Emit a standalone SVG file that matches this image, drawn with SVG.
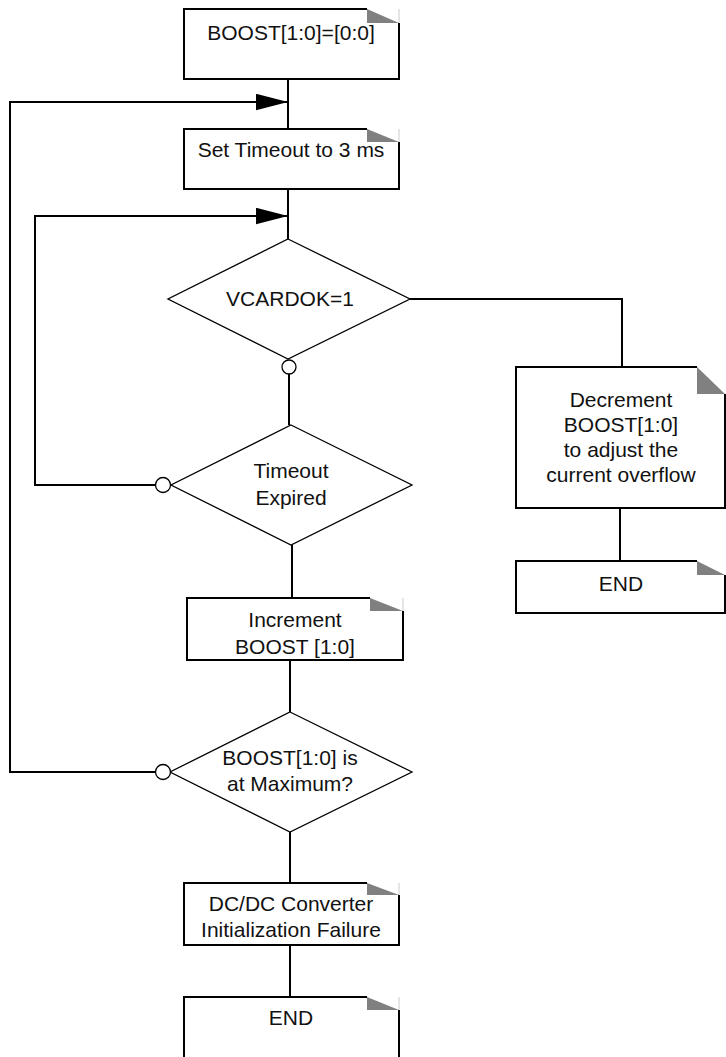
<svg xmlns="http://www.w3.org/2000/svg" width="726" height="1057" viewBox="0 0 726 1057">
<style>
.bg{fill:#fff;stroke:none}
.edge{fill:none;stroke:#000;stroke-width:2}
.fold{fill:#808080;stroke:none}
.hint{fill:none;stroke:#ccc;stroke-width:1}
.dia{fill:#fff;stroke:#000;stroke-width:1.3}
.dot{fill:#fff;stroke:#000;stroke-width:1.3}
.conn{fill:none;stroke:#000;stroke-width:2}
text{font-family:"Liberation Sans",Arial,sans-serif;font-size:21px;fill:#111;text-anchor:middle}
</style>
<defs>
<marker id="arr" markerUnits="userSpaceOnUse" markerWidth="32" markerHeight="17" viewBox="0 0 31 16" refX="31" refY="8" orient="auto">
<path d="M0,0 L31,8 L0,16 Z" fill="#000"/>
</marker>
</defs>

<g id="connectors">
<path class="conn" d="M288,79 V129"/>
<path class="conn" d="M288,189 V239"/>
<path class="conn" d="M289,374 V425"/>
<path class="conn" d="M292,545 V598"/>
<path class="conn" d="M290,660 V712"/>
<path class="conn" d="M290,832 V883"/>
<path class="conn" d="M290,945 V997"/>
<path class="conn" d="M410,299 H622 V367"/>
<path class="conn" d="M620,508 V561"/>
<path class="conn" d="M155.5,485 H35 V216 H288" marker-end="url(#arr)"/>
<path class="conn" d="M155.5,772 H10 V102 H288" marker-end="url(#arr)"/>
</g>

<g id="n_boost_init">
<rect class="bg" x="184" y="9" width="215" height="70"/>
<polygon class="fold" points="367,9 367,23 399,23"/>
<path class="hint" d="M399,9 V23"/>
<path class="edge" d="M367,9 H184 V79 H399 V23"/>
<text x="291" y="40">BOOST[1:0]=[0:0]</text>
</g>

<g id="n_set_timeout">
<rect class="bg" x="184" y="129" width="215" height="60"/>
<polygon class="fold" points="367,129 367,142 399,142"/>
<path class="hint" d="M399,129 V142"/>
<path class="edge" d="M367,129 H184 V189 H399 V142"/>
<text x="291" y="157">Set Timeout to 3 ms</text>
</g>

<g id="n_vcardok">
<polygon class="dia" points="288,239 410,299 288,359 168,299"/>
<text x="290" y="306">VCARDOK=1</text>
<circle class="dot" cx="289" cy="367" r="7"/>
</g>

<g id="n_timeout_expired">
<polygon class="dia" points="291,425 412,485 291,545 171,485"/>
<text x="291" y="478">Timeout</text>
<text x="291" y="505">Expired</text>
<circle class="dot" cx="163" cy="485" r="7.5"/>
</g>

<g id="n_increment">
<rect class="bg" x="187" y="598" width="216" height="62"/>
<polygon class="fold" points="370,598 370,611 403,611"/>
<path class="hint" d="M403,598 V611"/>
<path class="edge" d="M370,598 H187 V660 H403 V611"/>
<text x="295" y="627">Increment</text>
<text x="295" y="654">BOOST [1:0]</text>
</g>

<g id="n_boost_max">
<polygon class="dia" points="290,712 412,772 290,832 170,772"/>
<text x="290" y="765">BOOST[1:0] is</text>
<text x="290" y="791">at Maximum?</text>
<circle class="dot" cx="163" cy="772" r="7.5"/>
</g>

<g id="n_failure">
<rect class="bg" x="184" y="883" width="215" height="62"/>
<polygon class="fold" points="367,883 367,895 399,895"/>
<path class="hint" d="M399,883 V895"/>
<path class="edge" d="M367,883 H184 V945 H399 V895"/>
<text x="291" y="911">DC/DC Converter</text>
<text x="291" y="937">Initialization Failure</text>
</g>

<g id="n_end_left">
<rect class="bg" x="184" y="997" width="215" height="70"/>
<polygon class="fold" points="367,997 367,1010 399,1010"/>
<path class="hint" d="M399,997 V1010"/>
<path class="edge" d="M367,997 H184 V1067 M399,1067 V1010"/>
<text x="291" y="1025">END</text>
</g>

<g id="n_decrement">
<rect class="bg" x="516" y="367" width="209" height="141"/>
<polygon class="fold" points="697,367 697,394 725,394"/>
<path class="edge" d="M697,367 H516 V508 H725 V394"/>
<text x="621" y="407">Decrement</text>
<text x="621" y="432">BOOST[1:0]</text>
<text x="621" y="457">to adjust the</text>
<text x="621" y="482">current overflow</text>
</g>

<g id="n_end_right">
<rect class="bg" x="516" y="561" width="209" height="52"/>
<polygon class="fold" points="697,561 697,575 725,575"/>
<path class="edge" d="M697,561 H516 V613 H725 V575"/>
<text x="621" y="591">END</text>
</g>
</svg>
